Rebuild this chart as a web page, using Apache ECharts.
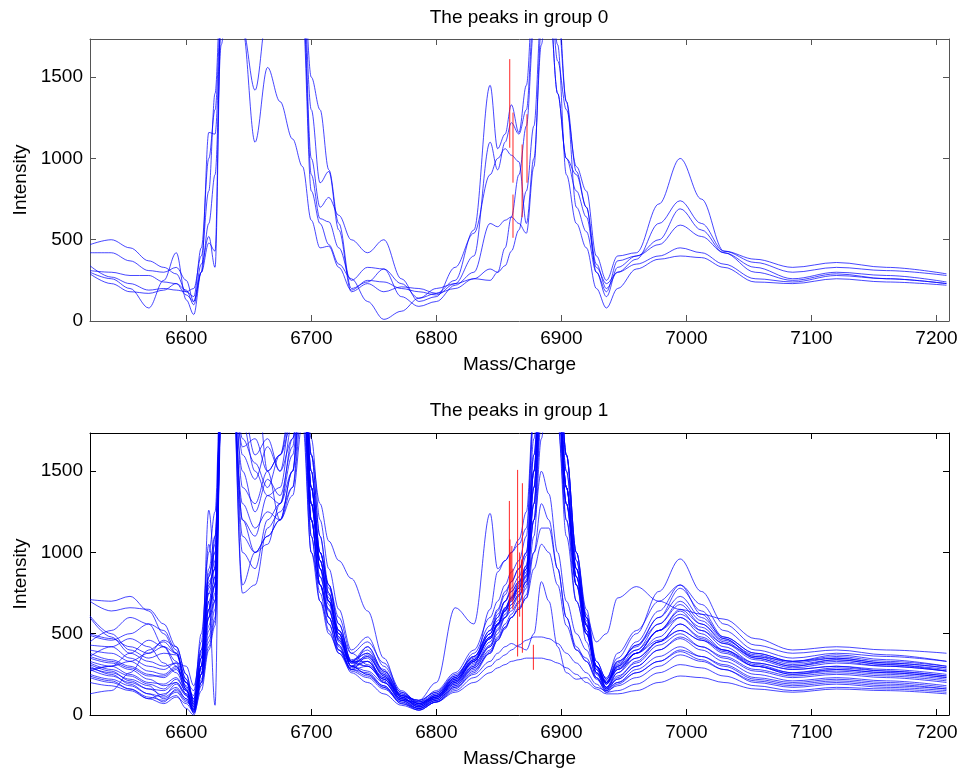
<!DOCTYPE html>
<html><head><meta charset="utf-8">
<script src="https://cdn.jsdelivr.net/npm/echarts@6/dist/echarts.min.js"></script>
<style>html,body{margin:0;padding:0;background:#fff}#c{width:961px;height:769px}</style>
</head><body><div id="c"></div>
<script>
// ---- data ----
const massGrid = [6523,6540,6555,6570,6582,6592,6600,6606,6612,6618, 6623,6628,6635,6645,6655,6665,6675,6685,6693,6700, 6707,6714,6722,6732,6745,6758,6772,6786,6800,6815, 6830,6843,6849,6855,6860,6866,6872,6878,6884,6890, 6897,6904,6912,6920,6928,6936,6945,6960,6978,6995, 7012,7030,7055,7085,7120,7160,7208];
const xTicks = [6600,6700,6800,6900,7000,7100,7200];
const yTicks = [0,500,1000,1500];
const titles = ['The peaks in group 0','The peaks in group 1'];

// group 0 spectra
const g0_1 = [470,500,450,370,330,290,180,150,450,1000, 1300,1900,2400,2500,2400,2500,2300,2400,2200,1500, 1300,930,600,200,240,320,230,140,170,250, 560,1450,1060,1150,1330,1160,1450,2100,2400,2200, 1600,1300,950,800,400,250,400,420,720,1000, 750,430,380,330,360,330,290];
const g0_2 = [420,420,370,310,300,330,250,120,300,1160, 1150,1800,2300,1800,1100,1560,1350,1120,950,620, 450,460,330,190,250,240,200,180,160,230, 400,1100,930,1100,1220,1150,1300,1900,2300,2000, 1400,1000,900,700,350,200,300,380,600,740, 600,430,360,300,330,310,280];
const g0_3 = [340,270,230,190,200,190,180,200,400,800, 1400,2100,2400,1800,1420,1900,2400,2300,2100,1000, 700,760,650,500,420,500,260,120,150,330, 540,900,1000,1060,1020,980,600,1000,1700,2300, 1900,1350,920,700,300,150,330,400,500,690, 560,420,300,250,290,260,230];
const g0_4 = [310,300,280,280,240,230,160,120,350,520, 330,1900,2400,2500,2600,2600,2500,2400,2000,900, 630,610,450,250,330,320,150,90,120,220, 300,600,580,620,640,600,540,950,1800,2300, 2000,1350,700,550,300,180,370,400,470,590, 520,420,330,260,300,280,240];
const g0_5 = [290,230,180,170,190,230,190,100,300,480, 430,2000,2300,2500,2500,2400,2400,2300,2100,1300, 850,920,560,180,230,180,210,200,170,200, 260,320,300,450,640,900,1200,1800,2200,2000, 1400,1000,800,640,330,230,300,350,400,450, 420,350,260,240,280,260,230];
const g0_6 = [300,260,200,80,250,420,130,40,300,600, 900,1700,2400,2500,2500,2400,2500,2300,1900,800, 600,470,350,260,120,10,60,140,200,230, 260,250,300,340,430,560,800,1200,1900,2200, 1700,900,600,450,200,80,200,320,380,400, 390,330,240,230,260,240,220];

// group 1 spectra
const h01 = [710,700,730,640,500,380,170,120,500,1000, 1250,2200,2600,1800,2400,2600,2500,2600,2400,1400, 900,700,500,300,330,200,90,80,150,260, 400,600,700,800,880,950,1100,1900,2500,2400, 1800,1100,700,500,300,230,350,500,760,960, 760,560,430,380,400,370,330];
const h02 = [700,640,660,650,560,420,250,90,350,800, 900,2100,2500,1600,1450,1650,1500,1700,2200,1200, 800,650,400,280,360,250,110,60,120,230, 380,550,650,760,820,900,1000,1700,2300,2500, 2100,1400,800,500,260,200,330,420,600,780, 640,480,380,330,370,340,300];
const h03 = [610,500,400,350,380,370,200,150,450,1050, 800,2000,2400,2600,2700,2500,2400,2500,2300,1300, 1000,800,520,380,310,230,130,80,110,200, 330,480,560,600,640,700,800,1300,2100,2400, 2000,1200,800,600,450,500,720,790,700,650, 620,590,470,400,420,400,380];
const h04 = [600,480,380,330,300,320,300,180,400,750, 700,1900,2500,1400,1300,1500,1600,1900,2400,1600, 1100,750,460,330,380,280,120,90,140,250, 360,520,600,700,780,850,980,1600,2200,2300, 1900,1300,900,550,260,190,300,450,640,800, 620,470,350,300,340,310,280];
const h05 = [500,470,420,380,460,420,250,80,300,870, 1000,2100,2400,1000,900,1200,1300,1700,2200,1100, 700,500,400,330,400,260,120,70,130,240, 360,500,620,700,760,820,900,1300,1900,2200, 1800,1200,700,500,300,210,310,430,560,680, 560,450,350,300,330,300,270];
const h06 = [490,460,500,560,520,400,150,30,250,600, 700,2000,2500,750,800,1150,1250,1400,1900,1000, 700,560,380,290,330,230,110,50,100,200, 300,430,530,620,680,740,820,1200,1800,2300, 2000,1300,800,520,280,160,260,380,520,640, 520,420,320,280,300,280,250];
const h07 = [430,420,350,300,280,320,120,10,300,700, 60,2200,2600,2400,2500,2600,2700,2500,2300,1500, 1000,800,560,330,300,220,100,60,110,210, 330,470,560,650,720,790,880,1500,2200,2500, 2200,1500,900,600,330,220,330,400,520,600, 520,440,360,330,350,320,290];
const h08 = [400,380,330,270,250,300,200,100,400,900, 1100,2000,2400,1100,1000,1100,1200,1350,1800,1000, 800,640,470,320,350,200,100,70,120,220, 340,480,560,640,700,760,850,1200,1500,1360, 1000,700,500,400,250,170,280,380,480,600, 500,400,310,260,290,270,240];
const h09 = [380,340,300,250,230,280,180,60,300,820, 900,2100,2500,2400,2200,1500,1200,1500,2200,1300, 900,600,430,280,300,210,90,50,110,210, 320,420,500,600,680,740,820,1000,1150,1150, 900,600,420,330,220,150,230,330,450,560, 470,390,300,260,280,260,230];
const h10 = [350,320,280,220,180,200,130,50,250,600, 800,2000,2400,1700,1550,1400,1600,2000,2300,1400, 900,700,500,300,250,170,90,40,100,190, 300,650,880,950,1000,1050,1150,1800,2400,2600, 2300,1600,1000,600,300,200,280,350,450,560, 480,400,300,250,270,250,220];
const h11 = [330,300,250,200,190,230,150,70,350,750, 900,2100,2500,2600,2400,2500,2600,2400,2200,1300, 900,700,520,330,330,220,120,90,200,660, 560,1240,900,950,1000,1080,1250,1900,2400,2500, 2100,1400,850,550,300,200,300,380,460,520, 460,400,320,280,300,270,240];
const h12 = [320,280,240,190,160,220,150,40,300,700, 850,2000,2400,1900,1600,1700,1500,1900,2400,1500, 1000,750,480,300,420,270,130,60,100,200, 310,450,550,640,700,780,900,1500,2300,2600, 2300,1600,1000,620,300,170,240,320,430,500, 420,350,270,230,250,230,200];
const h13 = [310,270,210,160,120,190,120,30,250,650, 800,2100,2500,2500,2400,2600,2500,2500,2300,1400, 950,720,500,320,360,240,110,50,90,180, 290,420,520,600,660,730,830,1400,2200,2500, 2200,1500,950,580,290,170,220,300,400,470, 400,330,250,210,230,210,180];
const h14 = [300,250,190,130,80,160,100,20,200,550, 750,2000,2300,1500,1250,1450,1350,1650,2500,1600, 1100,800,600,380,450,320,150,70,100,190, 290,400,480,560,620,690,780,1200,1900,2300, 2100,1400,900,560,260,150,200,280,360,420, 360,300,220,190,210,190,160];
const h15 = [290,260,220,180,100,140,80,40,200,520, 700,1900,2300,2500,2400,2400,2500,2500,2300,1300, 950,700,500,300,250,180,80,30,80,160, 260,380,460,530,600,660,740,1100,1700,2200, 2000,1300,800,450,230,140,190,260,330,390, 340,280,200,170,190,170,150];
const h16 = [280,240,200,160,150,200,130,50,250,650, 800,2000,2400,2500,2600,2500,2300,2400,2300,1600, 1300,1070,950,840,640,350,110,90,140,240, 360,500,580,660,720,780,860,1300,2000,2300, 2000,1300,850,500,260,170,260,350,450,520, 460,380,300,250,280,260,230];
const h17 = [270,300,380,460,420,300,160,10,150,400, 550,1800,2200,1300,1150,1250,1200,1400,2100,1200, 800,600,420,260,200,130,60,30,80,150, 230,300,340,370,400,430,460,480,480,470, 440,380,320,260,190,140,150,190,260,310, 290,240,180,150,170,160,140];
const h18 = [250,220,180,130,110,150,90,30,200,450, 600,1900,2300,2400,2400,2500,2400,2300,2000,1100, 750,520,380,270,230,160,80,40,80,140, 200,260,290,310,330,340,350,350,350,340, 320,290,250,200,160,130,130,150,200,240, 230,200,160,140,160,150,130];
const h19 = [230,200,160,110,90,120,40,0,180,420, 580,1900,2300,1800,1500,1350,1300,1600,2200,1200, 800,560,400,280,260,180,70,40,90,170, 250,330,380,420,440,420,400,500,820,700, 420,260,220,230,170,150,180,230,300,370, 330,280,210,180,200,180,160];
const h20 = [200,180,150,100,130,170,100,30,250,600, 1100,2000,2400,1200,1000,1050,1300,1500,2300,1300, 850,650,460,300,270,200,90,40,90,180, 280,380,460,540,600,650,720,900,1050,1000, 800,550,400,350,230,160,220,300,400,480, 420,360,280,240,260,240,210];
const h21 = [130,150,260,400,450,380,220,60,300,1260, 900,2000,2400,1200,1100,1350,1400,1800,2300,1400, 950,700,480,320,300,220,100,50,110,220, 340,500,600,700,760,820,920,1500,2100,2400, 2100,1400,850,520,280,190,300,400,560,700, 580,470,360,310,340,310,270];
const h22 = [360,420,470,420,320,260,160,50,280,650, 850,2000,2400,2500,2500,2600,2400,2400,2300,1500, 1000,780,560,330,420,270,140,80,130,230, 350,520,640,740,820,900,1000,1600,2300,2600, 2300,1600,1000,650,330,220,380,520,700,800, 680,520,400,350,380,360,330];
const h23 = [450,520,600,560,420,330,200,100,380,850, 1050,2100,2500,800,1000,1100,1200,1500,2100,1200, 850,680,450,300,370,240,100,60,120,230, 340,480,560,650,720,800,900,1400,2000,2300, 2000,1400,850,550,300,200,320,430,600,730, 600,480,380,330,360,330,300];
const h24 = [280,300,330,380,420,380,220,70,300,780, 950,2100,2500,2400,2300,2400,2300,2500,2400,1700, 1200,900,650,400,480,300,140,70,110,210, 330,470,560,660,730,810,920,1500,2300,2600, 2300,1600,950,600,300,190,280,380,520,620, 540,440,340,290,320,300,270];
const h25 = [240,210,160,100,70,110,70,20,220,480, 650,1900,2300,1650,1700,1500,1600,1800,2100,1200, 800,600,430,280,240,170,70,30,80,170, 270,390,470,540,600,650,720,1000,1300,1200, 900,600,400,330,230,160,200,260,330,400, 360,310,230,200,220,200,170];
const h26 = [360,330,290,240,240,290,200,80,350,850, 1000,2100,2500,2500,2500,2600,2500,2400,2200,1400, 950,740,520,340,380,250,120,70,120,220, 330,470,550,640,710,780,860,1400,2100,2400, 2100,1400,900,560,300,200,290,380,520,650, 560,460,370,320,350,320,290];

// peak error bars (red vertical segments)
const red0X  = [6858.7, 6861.3, 6861.3, 6868.6, 6872.5];
const red0Lo = [1066, 851, 512, 638, 851];
const red0Hi = [1611, 1282, 778, 1086, 1272];
const red1X  = [6858.4, 6858.9, 6859.6, 6860.4, 6861.2, 6865.0, 6866.6, 6868.0, 6868.8, 6877.6];
const red1Lo = [638, 760, 700, 820, 650, 360, 605, 753, 383, 278];
const red1Hi = [1317, 1080, 1000, 1040, 900, 1508, 1000, 957, 1426, 432];

const group0 = [g0_1,g0_2,g0_3,g0_4,g0_5,g0_6];
const group1 = [h01,h02,h03,h04,h05,h06,h07,h08,h09,h10,h11,h12,h13,h14,h15,h16,h17,h18,h19,h20,h21,h22,h23,h24,h25,h26];

// ---- chart ----
const FONT = '"Liberation Sans", Arial, Helvetica, sans-serif';
const FS = 19;
const grids = [
  {left:90, top:39, width:859, height:282},
  {left:90, top:433, width:859, height:282}
];
const frameColor = ['#555','#000'];
const plain = v => String(v);
const xAxes = [], yAxes = [];
grids.forEach((g, gi) => {
  const lc = {color: frameColor[gi], width: 1};
  xAxes.push({gridIndex: gi, type:'value', min:6523, max:7210, position:'bottom',
    axisLine:{show:true, onZero:false, lineStyle:lc},
    axisTick:{show:true, inside:true, length:6, customValues:xTicks, lineStyle:lc},
    axisLabel:{show:true, customValues:xTicks, formatter:plain, color:'#000', fontSize:FS, fontFamily:FONT, margin:8},
    splitLine:{show:false},
    name:'Mass/Charge', nameLocation:'middle', nameGap:34,
    nameTextStyle:{color:'#000', fontSize:FS, fontFamily:FONT}});
  xAxes.push({gridIndex: gi, type:'value', min:6523, max:7210, position:'top',
    axisLine:{show:true, onZero:false, lineStyle:lc},
    axisTick:{show:true, inside:true, length:6, customValues:xTicks, lineStyle:lc},
    axisLabel:{show:false}, splitLine:{show:false}});
  yAxes.push({gridIndex: gi, type:'value', min:0, max:1735, position:'left',
    axisLine:{show:true, onZero:false, lineStyle:lc},
    axisTick:{show:true, inside:true, length:6, customValues:yTicks, lineStyle:lc},
    axisLabel:{show:true, customValues:yTicks, formatter:plain, color:'#000', fontSize:FS, fontFamily:FONT, margin:7},
    splitLine:{show:false},
    name:'Intensity', nameLocation:'middle', nameGap:50, nameRotate:90,
    nameTextStyle:{color:'#000', fontSize:FS, fontFamily:FONT}});
  yAxes.push({gridIndex: gi, type:'value', min:0, max:1735, position:'right',
    axisLine:{show:true, onZero:false, lineStyle:lc},
    axisTick:{show:true, inside:true, length:6, customValues:yTicks, lineStyle:lc},
    axisLabel:{show:false}, splitLine:{show:false}});
});

function spectrum(arr, gi) {
  return {type:'line', xAxisIndex: gi*2, yAxisIndex: gi*2,
    data: massGrid.map((m, i) => [m, arr[i]]),
    showSymbol:false, symbol:'none', smooth:0.35, smoothMonotone:'x', clip:true, silent:true,
    lineStyle:{color:'#0000ff', width:1, opacity:0.72}, z:2, animation:false};
}
function bar(x, lo, hi, gi) {
  return {type:'line', xAxisIndex: gi*2, yAxisIndex: gi*2,
    data:[[x, lo],[x, hi]], showSymbol:false, symbol:'none', clip:true, silent:true,
    lineStyle:{color:'#ff0000', width:1, opacity:0.85}, z:3, animation:false};
}
const series = [];
group0.forEach(a => series.push(spectrum(a, 0)));
group1.forEach(a => series.push(spectrum(a, 1)));
red0X.forEach((x, i) => series.push(bar(x, red0Lo[i], red0Hi[i], 0)));
red1X.forEach((x, i) => series.push(bar(x, red1Lo[i], red1Hi[i], 1)));

const chart = echarts.init(document.getElementById('c'), null, {renderer:'canvas'});
chart.setOption({
  animation:false,
  backgroundColor:'#fff',
  grid: grids,
  xAxis: xAxes,
  yAxis: yAxes,
  graphic: [
    {type:'text', x:519, y:18, style:{text:titles[0], fill:'#000', fontSize:FS, fontFamily:FONT, align:'center', verticalAlign:'middle', textAlign:'center', textVerticalAlign:'middle'}},
    {type:'text', x:519, y:411, style:{text:titles[1], fill:'#000', fontSize:FS, fontFamily:FONT, align:'center', verticalAlign:'middle', textAlign:'center', textVerticalAlign:'middle'}}
  ],
  series: series
});
</script>
</body></html>
